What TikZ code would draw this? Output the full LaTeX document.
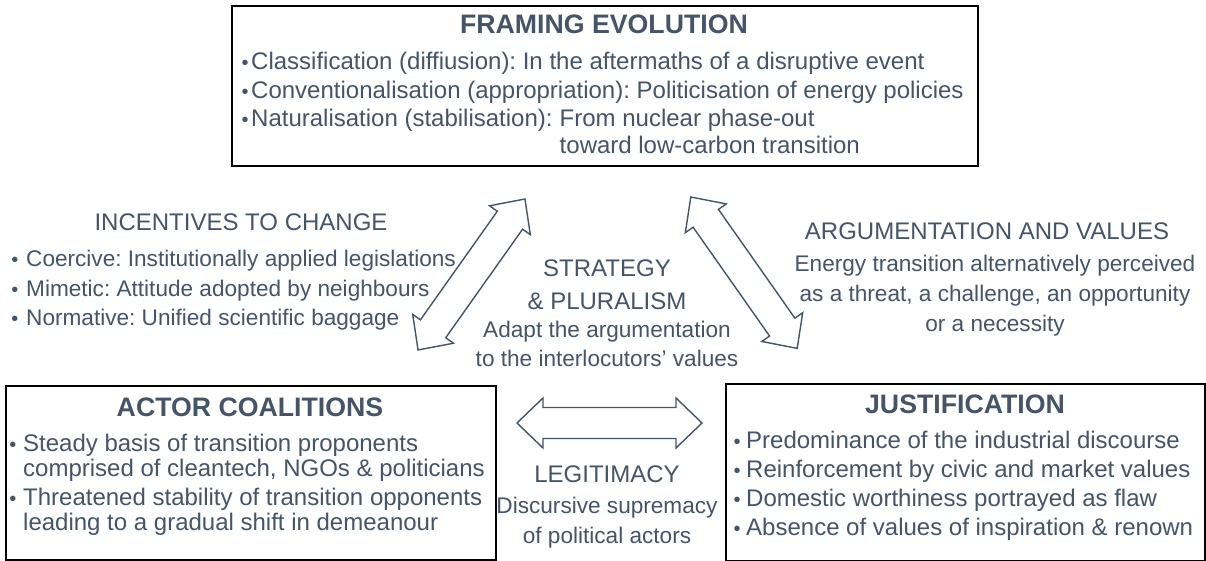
\documentclass[tikz,border=0pt]{standalone}
\usepackage{fontspec}
\setmainfont{Liberation Sans}
\definecolor{txt}{HTML}{44546A}
\begin{document}
\frenchspacing
\begin{tikzpicture}[x=1pt,y=-1pt,
  every node/.style={text=txt, inner sep=0pt},
  body/.style={font=\fontsize{22.6}{27}\selectfont\frenchspacing},
  boxbody/.style={font=\fontsize{24}{29}\selectfont\frenchspacing},
  head/.style={font=\fontsize{24}{29}\selectfont},
  title/.style={font=\fontsize{26.7}{32}\selectfont\bfseries},
  bul/.style={font=\fontsize{20}{24}\selectfont, anchor=base},
  box/.style={draw=black, line width=1.8pt, anchor=north west, fill=none},
  arrowline/.style={draw=txt, line width=1.4pt, line join=miter},
  blockarrow/.pic={\draw[arrowline] (-92.5,0) -- (-66.5,-25) -- (-66.5,-15.5) -- (66.5,-15.5) -- (66.5,-25) -- (92.5,0) -- (66.5,25) -- (66.5,15.5) -- (-66.5,15.5) -- (-66.5,25) -- cycle;}
]
\useasboundingbox (0,0) rectangle (1206,561);
\fill[white] (0,0) rectangle (1206,561);

% Framing evolution box
\node[box, minimum width=746pt, minimum height=160pt] (frame) at (231,5) {};
\node[title, anchor=base] (ftitle) at (604,34) {FRAMING EVOLUTION};
\node[bul] (fb1) at (245,70) {\textbullet};
\node[boxbody, anchor=base west] (f1) at (251,70) {Classification (diffiusion): In the aftermaths of a disruptive event};
\node[bul] (fb2) at (245,99) {\textbullet};
\node[boxbody, anchor=base west] (f2) at (251,99) {Conventionalisation (appropriation): Politicisation of energy policies};
\node[bul] (fb3) at (245,127) {\textbullet};
\node[boxbody, anchor=base west] (f3a) at (251,127) {Naturalisation (stabilisation):};
\node[boxbody, anchor=base west] (f3b) at ([xshift=6.67pt]f3a.base east) {From nuclear phase-out};
\coordinate (f4pos) at (0,154);
\node[boxbody, anchor=base west] (f4) at (f3b.base west |- f4pos) {toward low-carbon transition};

% Incentives to change
\node[head, anchor=base] (itit) at (241,231) {INCENTIVES TO CHANGE};
\node[bul] (ib1) at (15,266) {\textbullet};
\node[body, anchor=base west] (i1) at (26,266) {Coercive: Institutionally applied legislations};
\node[bul] (ib2) at (15,296) {\textbullet};
\node[body, anchor=base west] (i2) at (26,296) {Mimetic: Attitude adopted by neighbours};
\node[bul] (ib3) at (15,325) {\textbullet};
\node[body, anchor=base west] (i3) at (26,325) {Normative: Unified scientific baggage};

% Strategy & pluralism
\node[head, anchor=base] (s1) at (607,276) {STRATEGY};
\node[head, anchor=base] (s2) at (607,309) {\& PLURALISM};
\node[body, anchor=base] (s3) at (607,337) {Adapt the argumentation};
\node[body, anchor=base] (s4) at (607,366) {to the interlocutors’ values};

% Argumentation and values
\node[head, anchor=base] (a1) at (987,240) {ARGUMENTATION AND VALUES};
\node[body, anchor=base] (a2) at (995,271) {Energy transition alternatively perceived};
\node[body, anchor=base] (a3) at (995,301) {as a threat, a challenge, an opportunity};
\node[body, anchor=base] (a4) at (995,331) {or a necessity};

% Actor coalitions box
\node[box, minimum width=490pt, minimum height=174pt] (actor) at (5,385) {};
\node[title, anchor=base] (acttit) at (250,416) {ACTOR COALITIONS};
\node[bul] (cb1) at (13,451) {\textbullet};
\node[boxbody, anchor=base west] (c1) at (23,451) {Steady basis of transition proponents};
\node[boxbody, anchor=base west] (c2) at (23,476) {comprised of cleantech, NGOs \& politicians};
\node[bul] (cb2) at (13,505) {\textbullet};
\node[boxbody, anchor=base west] (c3) at (23,505) {Threatened stability of transition opponents};
\node[boxbody, anchor=base west] (c4) at (23,530) {leading to a gradual shift in demeanour};

% Justification box
\node[box, minimum width=479pt, minimum height=177pt] (just) at (725,383) {};
\node[title, anchor=base] (jtit) at (965,413) {JUSTIFICATION};
\node[bul] (jb1) at (737,448) {\textbullet};
\node[boxbody, anchor=base west] (j1) at (746,448) {Predominance of the industrial discourse};
\node[bul] (jb2) at (737,477) {\textbullet};
\node[boxbody, anchor=base west] (j2) at (746,477) {Reinforcement by civic and market values};
\node[bul] (jb3) at (737,506) {\textbullet};
\node[boxbody, anchor=base west] (j3) at (746,506) {Domestic worthiness portrayed as flaw};
\node[bul] (jb4) at (737,535) {\textbullet};
\node[boxbody, anchor=base west] (j4) at (746,535) {Absence of values of inspiration \& renown};

% Legitimacy
\node[head, anchor=base] (l1) at (607,482) {LEGITIMACY};
\node[body, anchor=base] (l2) at (607,513) {Discursive supremacy};
\node[body, anchor=base] (l3) at (607,543) {of political actors};

% Block arrows
\pic (leftarrow) [rotate=54.7] at (471.5,274.5) {blockarrow};
\pic (rightarrow) [rotate=125.1] at (744,272.7) {blockarrow};
\pic (midarrow) at (609.5,423) {blockarrow};
\end{tikzpicture}
\end{document}
